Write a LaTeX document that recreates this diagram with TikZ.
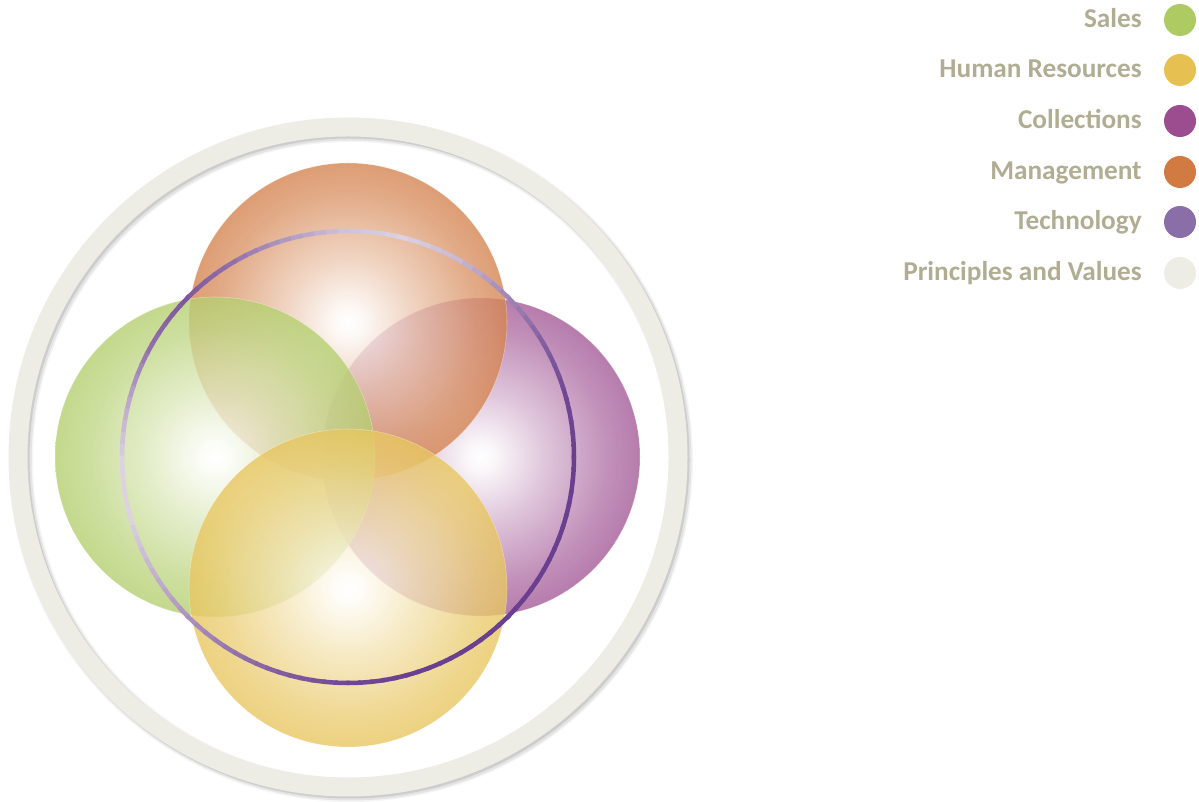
\documentclass[tikz,border=0pt]{standalone}
\usepackage{fontspec}
\setmainfont{Carlito}
\usepackage{tikz}

\definecolor{salesgreen}{HTML}{AECB63}
\definecolor{hryellow}{HTML}{E6C152}
\definecolor{collpurple}{HTML}{9C4D8F}
\definecolor{mgmtorange}{HTML}{D17A42}
\definecolor{techpurple}{HTML}{8A6EA8}
\definecolor{techdark}{HTML}{6B3F8F}
\definecolor{techlight}{HTML}{E8E2EA}
\definecolor{valuesgrey}{HTML}{EDECE5}
\definecolor{legendtext}{HTML}{B0AD93}

% white core fading out to the area colour at the rim
\colorlet{glowcol}{white}
\pgfdeclareradialshading[glowcol]{glow}{\pgfpointorigin}{%
  color(0bp)=(white); color(2bp)=(glowcol!5!white); color(10bp)=(glowcol!40!white);
  color(20bp)=(glowcol!78!white); color(28bp)=(glowcol); color(50bp)=(glowcol)}

\tikzset{
  glow color/.code={\colorlet{glowcol}{#1}},
  sphere/.style={shading=glow, fill opacity=0.8, draw=white, draw opacity=0.4, line width=0.3pt},
  legenddot/.style={circle, inner sep=0pt, minimum size=0.64cm},
  legendlabel/.style={anchor=base east, inner sep=0pt, text=legendtext,
    font=\fontsize{15.5}{18}\selectfont\bfseries},
}

\begin{document}
\begin{tikzpicture}[x=0.02cm, y=0.02cm]
    \useasboundingbox (0,0) rectangle (1199,801);

    \coordinate (hub) at (348,344);
    \coordinate (mgmt) at (348,479);
    \coordinate (sales) at (215,344);
    \coordinate (coll) at (481,344);
    \coordinate (hr) at (348,213);

    % principles and values: outer band with its soft shadow
    \draw [black, opacity=0.04, line width=0.48cm] ([shift={(3,-3)}]hub) circle (330);
    \draw [black, opacity=0.07, line width=0.42cm] ([shift={(3,-3)}]hub) circle (330);
    \draw [black, opacity=0.10, line width=0.38cm] ([shift={(2,-2)}]hub) circle (330);
    \draw [valuesgrey, line width=0.38cm] (hub) circle (330);

    % the four areas, collections at the back and hr in front
    \shade [glow color=collpurple, sphere] (coll) circle (159);
    \shade [glow color=mgmtorange, sphere] (mgmt) circle (159);
    \shade [glow color=salesgreen, sphere] (sales) circle (160);
    \shade [glow color=hryellow, sphere] (hr) circle (159);

    % technology ring, lit from the top and the left
    % (start angle / dark share here / dark share 15 degrees on)
    \foreach \a/\m/\n in {0/100/95,15/95/80,30/80/55,45/55/25,60/25/10,75/10/20,
                          90/20/45,105/45/70,120/70/85,135/85/70,150/70/35,165/35/10,
                          180/10/10,195/10/30,210/30/50,225/50/70,240/70/85,255/85/95,
                          270/95/100,285/100/100,300/100/100,315/100/100,330/100/100,345/100/100}
        \foreach \k in {0,...,4} {
            \pgfmathtruncatemacro\mix{\m+(\n-\m)*\k/5}
            \draw [techdark!\mix!techlight, line width=0.09cm]
                ([shift={(\a+3*\k-0.4:226)}]hub) arc (\a+3*\k-0.4:\a+3*\k+3.4:226);
        }

    % legend
    \node [legenddot, fill=salesgreen] (salesdot) at (1180,781) {};
    \node [legenddot, fill=hryellow] (hrdot) at (1180,731) {};
    \node [legenddot, fill=collpurple] (colldot) at (1180,680) {};
    \node [legenddot, fill=mgmtorange] (mgmtdot) at (1180,629) {};
    \node [legenddot, fill=techpurple] (techdot) at (1180,579) {};
    \node [legenddot, fill=valuesgrey] (valuesdot) at (1180,528) {};

    \node [legendlabel] (saleslabel) at (1142,773) {Sales};
    \node [legendlabel] (hrlabel) at (1142,723) {Human Resources};
    \node [legendlabel] (colllabel) at (1142,672) {Collections};
    \node [legendlabel] (mgmtlabel) at (1142,621) {Management};
    \node [legendlabel] (techlabel) at (1142,571) {Technology};
    \node [legendlabel] (valueslabel) at (1142,520) {Principles and Values};
\end{tikzpicture}
\end{document}
